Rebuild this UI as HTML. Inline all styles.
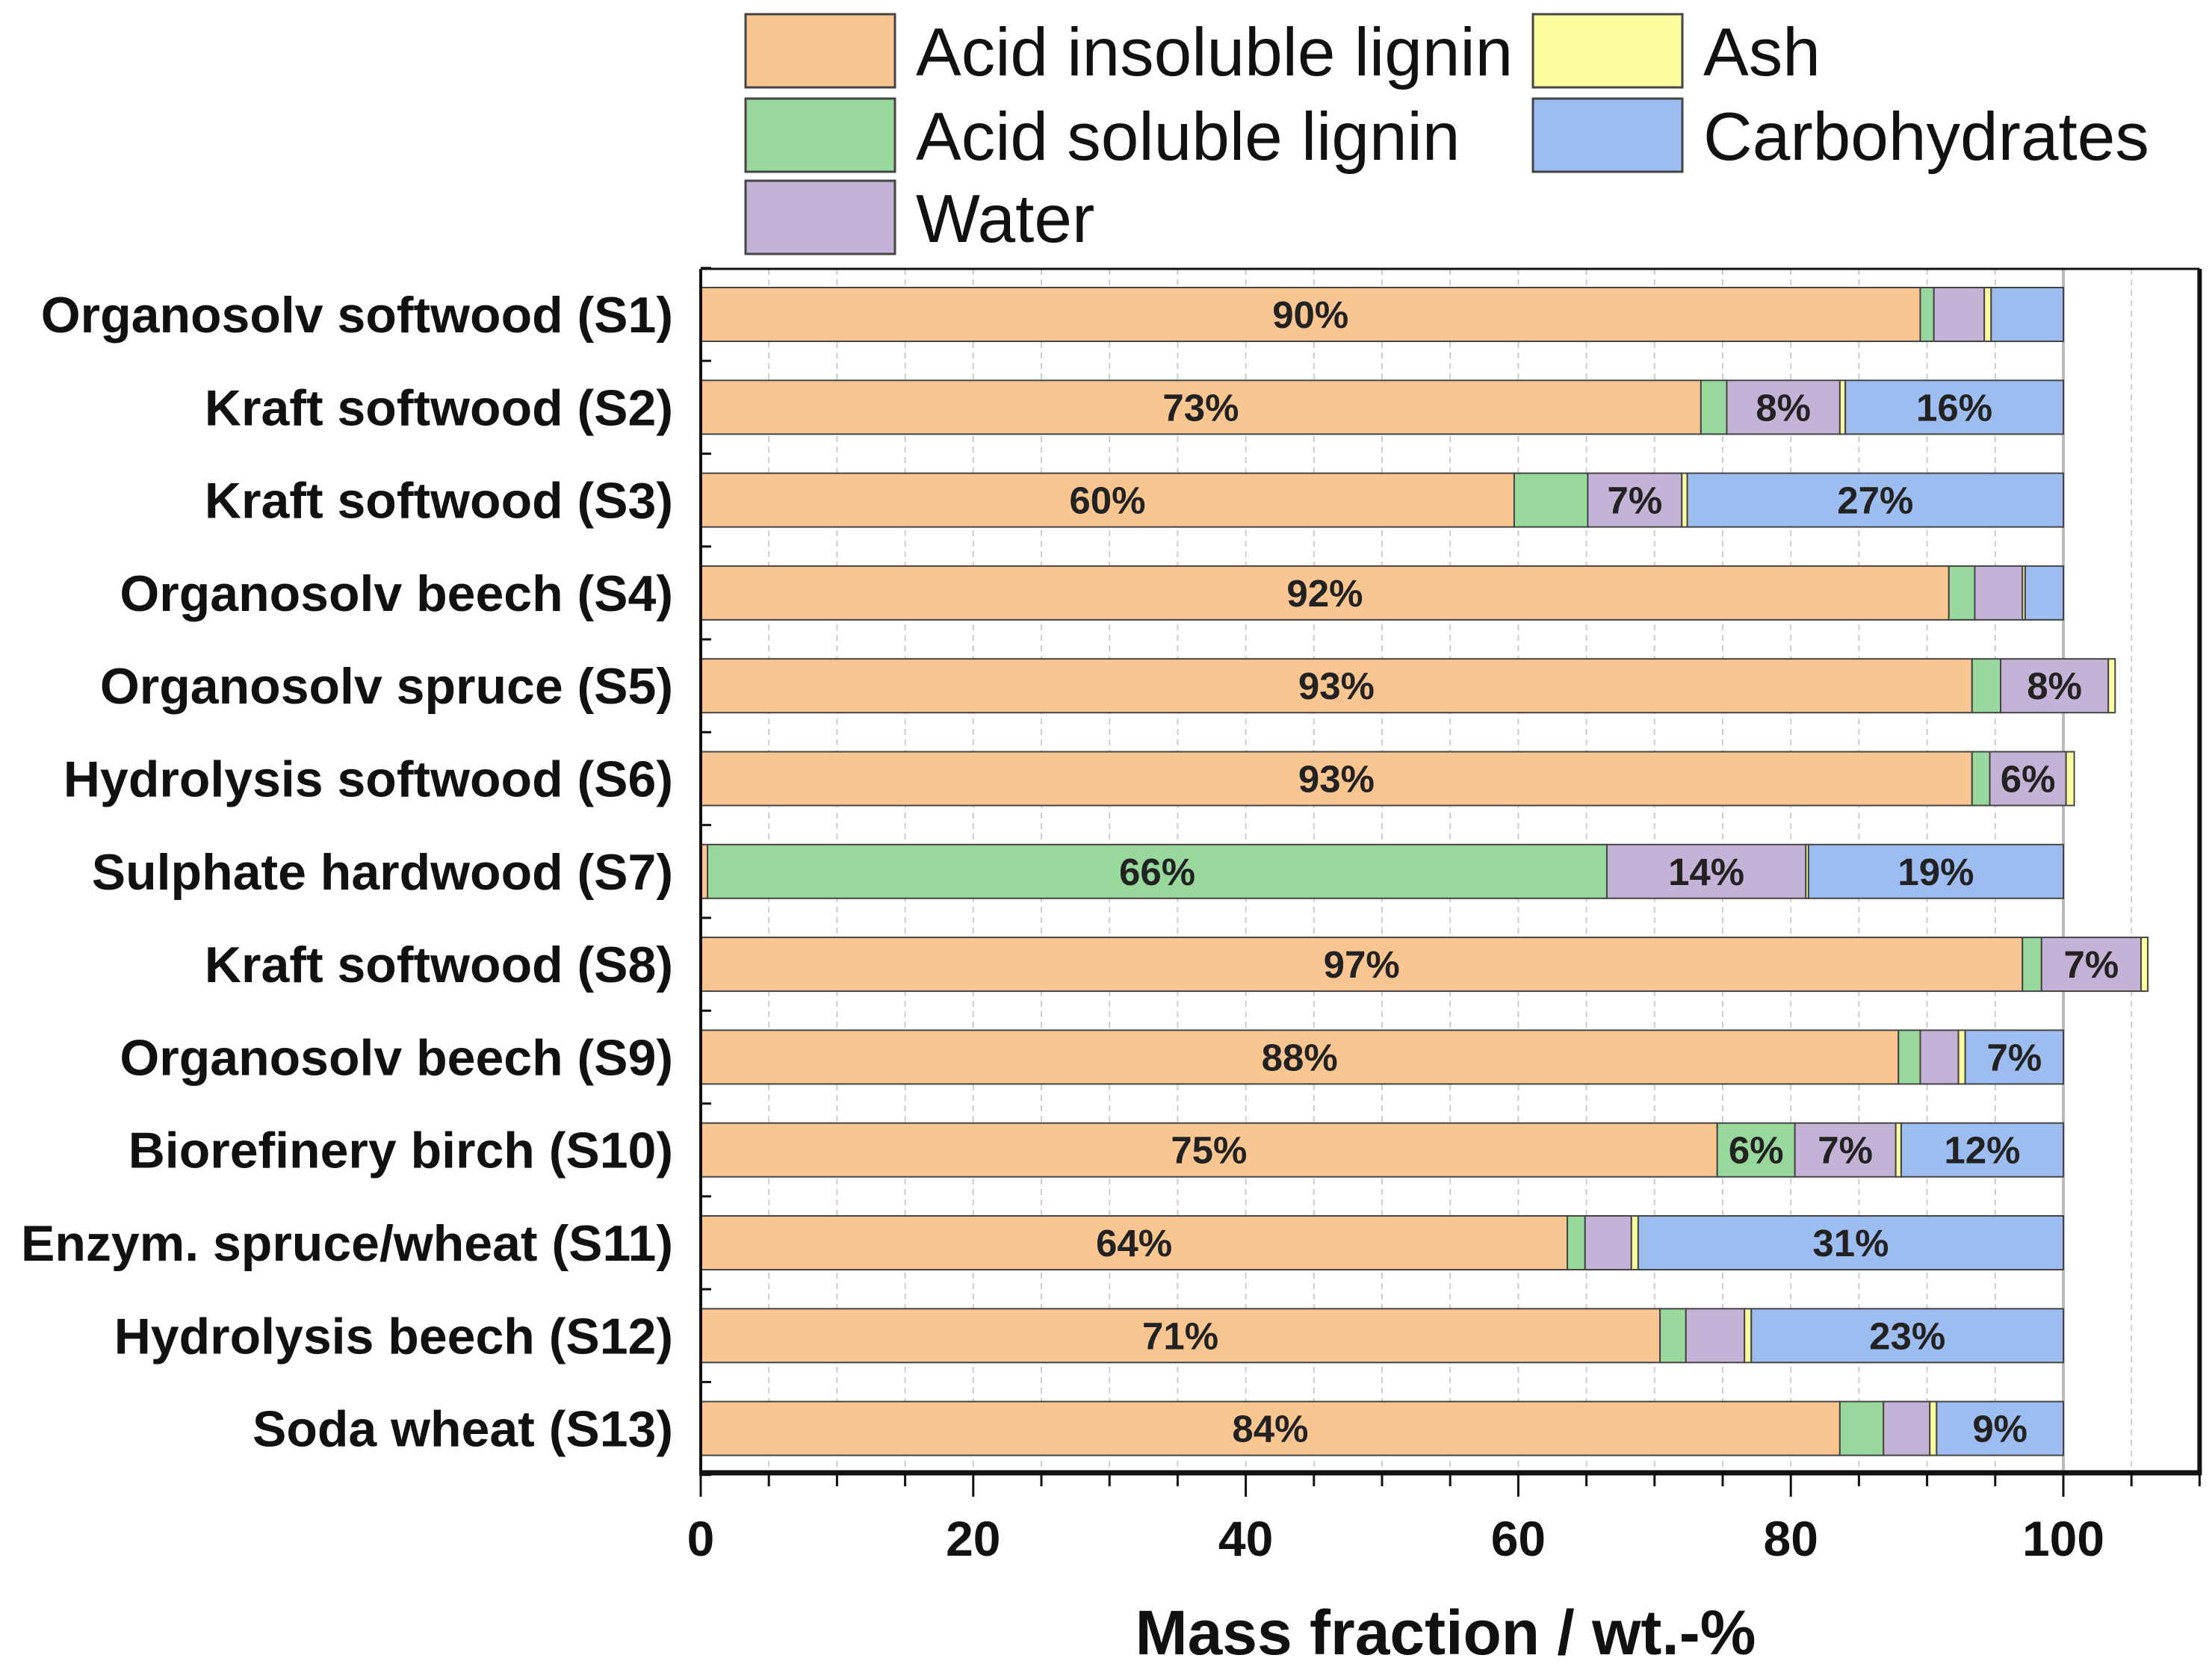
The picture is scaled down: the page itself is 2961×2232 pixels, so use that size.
<!DOCTYPE html>
<html><head><meta charset="utf-8"><style>
html,body{margin:0;padding:0;background:#fff}
svg{display:block;font-family:"Liberation Sans",Arial,sans-serif}
</style></head><body>
<svg id="chart" width="2961" height="2232" viewBox="0 0 2961 2232" xmlns="http://www.w3.org/2000/svg">
<g id="grid"></g>
<g id="bars"></g>
<g id="axes"></g>
<g id="legend"></g>
</svg>
<script>
const categories = ["Organosolv softwood (S1)","Kraft softwood (S2)","Kraft softwood (S3)","Organosolv beech (S4)","Organosolv spruce (S5)","Hydrolysis softwood (S6)","Sulphate hardwood (S7)","Kraft softwood (S8)","Organosolv beech (S9)","Biorefinery birch (S10)","Enzym. spruce/wheat (S11)","Hydrolysis beech (S12)","Soda wheat (S13)"];
const acidInsoluble = [89.5,73.4,59.7,91.6,93.3,93.3,0.5,97.0,87.9,74.6,63.6,70.4,83.6];
const acidSoluble   = [1.0,1.9,5.4,1.9,2.1,1.3,66.0,1.4,1.6,5.7,1.3,1.9,3.2];
const water         = [3.7,8.3,6.9,3.5,7.9,5.6,14.6,7.3,2.8,7.4,3.4,4.3,3.4];
const ash           = [0.5,0.4,0.4,0.2,0.5,0.6,0.2,0.5,0.5,0.4,0.5,0.5,0.5];
const carbohydrates = [5.3,16.0,27.6,2.8,0,0,18.7,0,7.2,11.9,31.2,22.9,9.3];
const labelsAIL  = ["90%","73%","60%","92%","93%","93%","","97%","88%","75%","64%","71%","84%"];
const labelsASL  = ["","","","","","","66%","","","6%","","",""];
const labelsW    = ["","8%","7%","","8%","6%","14%","7%","","7%","","",""];
const labelsC    = ["","16%","27%","","","","19%","","7%","12%","31%","23%","9%"];
const xTicks = [0,20,40,60,80,100];
const seriesNames = ["Acid insoluble lignin","Acid soluble lignin","Water","Ash","Carbohydrates"];
const seriesColors = ["#f9c591","#98d89c","#c4b3d6","#fdfda0","#9dbcef"];

const NS="http://www.w3.org/2000/svg";
const X0=938, XU=18.24, XMAX=110, TOP=360, BOT=1972, Y0=421, DY=124.3, BH=72;
const xs=v=>X0+v*XU, ys=i=>Y0+i*DY;
function mk(tag,attrs,parent){const e=document.createElementNS(NS,tag);for(const k in attrs)e.setAttribute(k,attrs[k]);parent.appendChild(e);return e;}
const grid=document.getElementById('grid'),bars=document.getElementById('bars'),axes=document.getElementById('axes'),legend=document.getElementById('legend');

for(let v=5;v<XMAX;v+=5){
  const l=mk('line',{x1:xs(v),x2:xs(v),y1:TOP,y2:BOT,stroke:v===100?'#bbb':'#ccc','stroke-width':v===100?4:2,'stroke-dasharray':v===100?'':'8,6'},grid);
  
  
}

const series=[acidInsoluble,acidSoluble,water,ash,carbohydrates];
const labs=[labelsAIL,labelsASL,labelsW,null,labelsC];
categories.forEach((c,i)=>{
  let acc=0;const yc=ys(i);
  series.forEach((s,k)=>{
    const v=s[i]; if(v<=0)return;
    const r=mk('rect',{x:xs(acc),y:yc-BH/2,width:v*XU,height:BH,fill:seriesColors[k],stroke:'#444','stroke-width':2},bars);
    
    
    if(labs[k]&&labs[k][i]){
      const t=mk('text',{x:xs(acc+v/2),y:yc+18,'text-anchor':'middle','font-size':51,'font-weight':'bold',fill:'#222'},bars);
      t.textContent=labs[k][i];
      
      
    }
    acc+=v;
  });
  const t=mk('text',{x:901,y:yc+24,'text-anchor':'end','font-size':68,'font-weight':'bold',fill:'#111'},axes);
  t.textContent=c;
  
  
});

mk('line',{x1:X0,x2:xs(XMAX),y1:TOP,y2:TOP,stroke:'#111','stroke-width':3},axes);
mk('line',{x1:xs(XMAX),x2:xs(XMAX),y1:TOP,y2:BOT,stroke:'#111','stroke-width':6},axes);
mk('line',{x1:X0,x2:X0,y1:TOP,y2:BOT,stroke:'#111','stroke-width':4},axes);
mk('line',{x1:X0-2,x2:xs(XMAX)+3,y1:BOT,y2:BOT,stroke:'#111','stroke-width':7},axes);
for(let i=0;i<=categories.length;i++){
  const y=ys(i)-DY/2;
  mk('line',{x1:X0,x2:X0+14,y1:y,y2:y,stroke:'#111','stroke-width':3},axes);
}
for(let v=0;v<=XMAX;v+=5){
  const major=v%20===0;
  mk('line',{x1:xs(v),x2:xs(v),y1:BOT,y2:BOT+(major?32:18),stroke:'#111','stroke-width':3},axes);
}
xTicks.forEach(v=>{
  const t=mk('text',{x:xs(v),y:2083,'text-anchor':'middle','font-size':66,'font-weight':'bold',fill:'#111'},axes);
  t.textContent=v;
  
  
});
const xt=mk('text',{x:1935,y:2215,'text-anchor':'middle','font-size':84,'font-weight':'bold',fill:'#111'},axes);
xt.textContent='Mass fraction / wt.-%';



const legPos=[[998,19],[998,132],[998,242],[2052,19],[2052,132]];
[0,1,2,3,4].forEach((k,j)=>{
  const [lx,ly]=legPos[j];
  const g=mk('g',{},legend);
  
  
  mk('rect',{x:lx,y:ly,width:200,height:98,fill:seriesColors[k],stroke:'#444','stroke-width':3},g);
  const t=mk('text',{x:lx+228,y:ly+82,'font-size':91,fill:'#111'},g);
  t.textContent=seriesNames[k];
});
</script>
</body></html>
